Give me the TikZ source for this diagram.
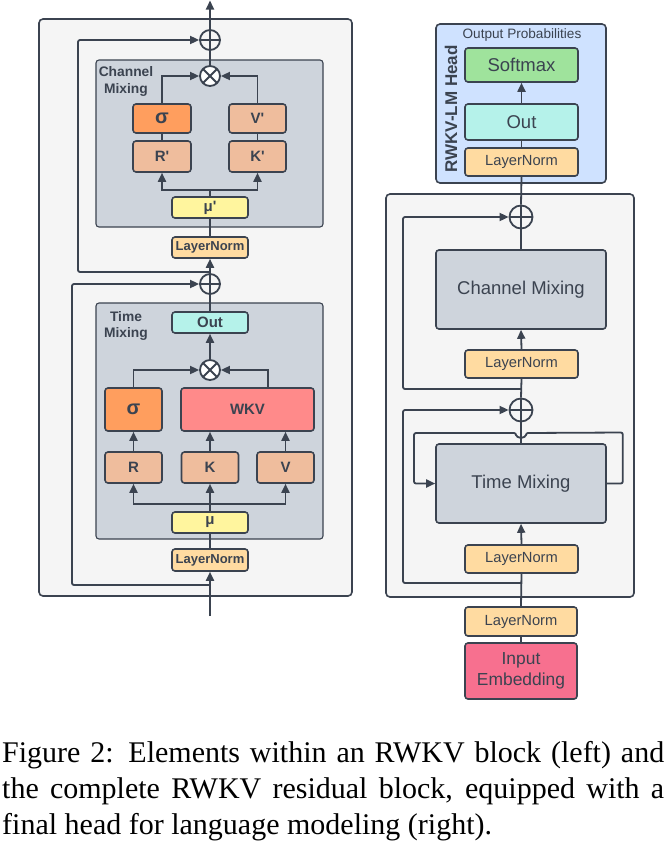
\documentclass[tikz,border=0pt]{standalone}
\usepackage{fontspec}
\setmainfont{Liberation Serif}
\setsansfont{Liberation Sans}
\newfontfamily\lsans{Liberation Sans}
\usetikzlibrary{arrows.meta,calc}
\definecolor{ln}{HTML}{3B4350}
\definecolor{tx}{HTML}{3B4350}
\definecolor{bgc}{HTML}{F5F5F5}
\definecolor{mixc}{HTML}{CED4DC}
\definecolor{peach}{HTML}{EFBD9D}
\definecolor{orng}{HTML}{FF9E5E}
\definecolor{wkvc}{HTML}{FF8A8A}
\definecolor{cyanc}{HTML}{B5F2EA}
\definecolor{yel}{HTML}{FFF59E}
\definecolor{lnc}{HTML}{FFDBA1}
\definecolor{grn}{HTML}{9FE39C}
\definecolor{headc}{HTML}{CFE2FF}
\definecolor{pinkc}{HTML}{F7708F}
\tikzset{
  outer/.style={draw=ln, fill=bgc, line width=1.6pt, rounded corners=4pt, inner sep=0pt},
  mix/.style={draw=ln, fill=mixc, line width=1.1pt, rounded corners=3pt, inner sep=0pt},
  box/.style={draw=ln, line width=1.6pt, rounded corners=3pt, inner sep=0pt, text=tx},
  fL/.style={font=\lsans\bfseries\fontsize{15}{17}\selectfont},
  fLN/.style={font=\lsans\bfseries\fontsize{13}{14}\selectfont},
  fS/.style={font=\lsans\bfseries\fontsize{20}{22}\selectfont},
  fR/.style={font=\lsans\fontsize{18.5}{21}\selectfont},
  fRN/.style={font=\lsans\fontsize{14.7}{17}\selectfont},
  lbl/.style={align=center, text=tx, inner sep=0pt, font=\lsans\bfseries\fontsize{13.8}{16.5}\selectfont},
  conn/.style={draw=ln, line width=1.8pt},
  arr/.style={conn, -{Triangle[length=9pt,width=8pt]}},
  plusc/.style={circle, draw=ln, line width=1.8pt, fill=bgc, inner sep=0pt, minimum size=#1,
    path picture={\draw[ln, line width=1.8pt] (path picture bounding box.north) -- (path picture bounding box.south)
      (path picture bounding box.west) -- (path picture bounding box.east);}},
  timesc/.style={circle, draw=ln, line width=1.8pt, fill=white, inner sep=0pt, minimum size=#1,
    path picture={\draw[ln, line width=1.8pt] (path picture bounding box.north west) -- (path picture bounding box.south east)
      (path picture bounding box.south west) -- (path picture bounding box.north east);}},
  captxt/.style={anchor=base west, inner sep=0pt, font=\fontsize{30}{37}\selectfont}
}
\begin{document}
\begin{tikzpicture}[x=1pt,y=-1pt]
\useasboundingbox (0,0) rectangle (668,846);
% ================= LEFT =================
\node[outer, minimum width=313pt, minimum height=577pt] (outerL) at (195.5,307.5) {};
\node[mix, minimum width=227pt, minimum height=167pt] (cmL) at (209.5,143.5) {};
\node[mix, minimum width=227pt, minimum height=236pt] (tmL) at (209.5,421) {};
\node[lbl] (cmLab) at (126,81.5) {Channel\\Mixing};
\node[lbl] (tmLab) at (126,326) {Time\\Mixing};

\node[plusc=20pt] (plusT) at (210,40) {};
\node[timesc=20pt] (otC) at (210,76) {};
\node[box, fill=orng, fS, minimum width=58pt, minimum height=29pt] (sigC) at (162,118.5) {σ};
\node[box, fill=peach, fL, minimum width=58pt, minimum height=31pt] (rC) at (162,156.5) {R'};
\node[box, fill=peach, fL, minimum width=57pt, minimum height=29pt] (vC) at (257.5,118.5) {V'};
\node[box, fill=peach, fL, minimum width=57pt, minimum height=31pt] (kC) at (257.5,156.5) {K'};
\node[box, fill=yel, fL, minimum width=76pt, minimum height=21pt] (muC) at (210,207.5) {μ'};
\node[box, fill=lnc, fLN, minimum width=76pt, minimum height=21pt] (lnC) at (210,247.5) {LayerNorm};
\node[plusc=20pt] (plusM) at (210,284) {};

\node[box, fill=cyanc, fL, minimum width=76pt, minimum height=21pt] (outT) at (210,322.5) {Out};
\node[timesc=20pt] (otT) at (210,370) {};
\node[box, fill=orng, fS, minimum width=57pt, minimum height=43pt] (sigT) at (133.5,409.5) {σ};
\node[box, fill=wkvc, fL, minimum width=133pt, minimum height=43pt] (wkv) at (247.5,409.5) {WKV};
\node[box, fill=peach, fL, minimum width=57pt, minimum height=31pt] (rT) at (133.5,467.5) {R};
\node[box, fill=peach, fL, minimum width=57pt, minimum height=31pt] (kT) at (210,467.5) {K};
\node[box, fill=peach, fL, minimum width=57pt, minimum height=31pt] (vT) at (285.5,467.5) {V};
\node[box, fill=yel, fL, minimum width=76pt, minimum height=21pt] (muT) at (210,522.5) {μ};
\node[box, fill=lnc, fLN, minimum width=76pt, minimum height=22pt] (lnT) at (210,560) {LayerNorm};

\coordinate (inL) at (210,616);
\coordinate (outL) at (210,0.5);
\coordinate (brC) at (210,190);
\coordinate (brT) at (210,504);
\coordinate (rs1) at (210,585);
\coordinate (rs2) at (210,272);

% connectors left
\draw[arr] (inL) -- (lnT.south);
\draw[conn] (lnT.north) -- (muT.south);
\draw[conn] (muT.north) -- (brT);
\draw[arr] (brT) -| (rT.south);
\draw[arr] (brT) -| (vT.south);
\draw[arr] (brT) -- (kT.south);
\draw[arr] (rT.north) -- (sigT.south);
\draw[arr] (kT.north) -- (kT.north |- wkv.south);
\draw[arr] (vT.north) -- (vT.north |- wkv.south);
\draw[arr] (sigT.north) |- (otT.west);
\draw[arr] ([xshift=20.5pt]wkv.north) |- (otT.east);
\draw[arr] (otT.north) -- (outT.south);
\draw[conn] (outT.north) -- (plusM.south);
\draw[arr] (plusM.north) -- (lnC.south);
\draw[conn] (lnC.north) -- (muC.south);
\draw[conn] (muC.north) -- (brC);
\draw[arr] (brC) -| (rC.south);
\draw[arr] (brC) -| (kC.south);
\draw[conn] (rC.north) -- (sigC.south);
\draw[conn] (kC.north) -- (vC.south);
\draw[arr] (sigC.north) |- (otC.west);
\draw[arr] (vC.north) |- (otC.east);
\draw[conn] (otC.north) -- (plusT.south);
\draw[arr] (plusT.north) -- (outL);
\draw[arr, rounded corners=2pt] (rs1) -- ++(-138,0) |- (plusM.west);
\draw[arr, rounded corners=2pt] (rs2) -- ++(-132,0) |- (plusT.west);

% ================= RIGHT =================
\node[box, fill=headc, minimum width=170pt, minimum height=159pt, rounded corners=4pt] (headB) at (521,103.5) {};
\node[text=tx, inner sep=0pt, font=\lsans\fontsize{13.6}{15}\selectfont] (opLab) at (522,35) {Output Probabilities};
\node[text=tx, inner sep=0pt, rotate=90, font=\lsans\bfseries\fontsize{17}{19}\selectfont] (headLab) at (451,109) {RWKV-LM Head};
\node[box, fill=grn, fR, minimum width=113pt, minimum height=34pt] (soft) at (521.5,65) {Softmax};
\node[box, fill=cyanc, fR, minimum width=113pt, minimum height=36pt] (outR) at (521.5,122) {Out};
\node[box, fill=lnc, fRN, minimum width=113pt, minimum height=28pt] (lnH) at (521.5,162) {LayerNorm};

\node[outer, minimum width=248pt, minimum height=403pt] (outerR) at (510,395.5) {};
\node[plusc=23pt] (plusR1) at (521,217) {};
\node[box, fill=mixc, fR, minimum width=170pt, minimum height=79pt] (cmR) at (521,289.5) {Channel Mixing};
\node[box, fill=lnc, fRN, minimum width=113pt, minimum height=28pt] (lnR1) at (521.5,364) {LayerNorm};
\node[plusc=23pt] (plusR2) at (521,410) {};
\node[box, fill=mixc, fR, minimum width=170pt, minimum height=79pt] (tmR) at (521,483.5) {Time Mixing};
\node[box, fill=lnc, fRN, minimum width=113pt, minimum height=28pt] (lnR2) at (521.5,559) {LayerNorm};

\node[box, fill=lnc, fRN, minimum width=112pt, minimum height=29pt] (lnE) at (521,621.5) {LayerNorm};
\node[box, fill=pinkc, align=center, font=\lsans\fontsize{17.4}{21}\selectfont, minimum width=112pt, minimum height=56pt] (emb) at (521,671) {Input\\Embedding};

\coordinate (rr1) at (521,389);
\coordinate (rr2) at (521,583);

\draw[conn] (emb.north) -- (lnE.south);
\draw[conn] (lnE.north) -- (lnR2.south);
\draw[arr] (lnR2.north) -- (tmR.south);
\draw[conn] (tmR.north) -- (plusR2.south);
\draw[conn] (plusR2.north) -- (lnR1.south);
\draw[arr] (lnR1.north) -- (cmR.south);
\draw[conn] (cmR.north) -- (plusR1.south);
\draw[conn] (plusR1.north) -- (lnH.south);
\draw[conn] (lnH.north) -- (outR.south);
\draw[arr] (outR.north) -- (soft.south);
\draw[arr, rounded corners=2pt] (rr1) -- ++(-118,0) |- (plusR1.west);
\draw[arr, rounded corners=2pt] (rr2) -- ++(-118,0) |- (plusR2.west);
\draw[arr, rounded corners=2pt] (tmR.east) -- ++(16,0) -- ++(0,-51) -- (526,433)
   arc[start angle=0, end angle=-180, radius=5pt] -- (414,433) -- (414,483.5) -- (tmR.west);

% ================= CAPTION =================
\node[captxt] (cap1) at (2,762) {\makebox[662pt][s]{Figure 2: Elements within an RWKV block (left) and}};
\node[captxt] (cap2) at (2,798.5) {\makebox[662pt][s]{the complete RWKV residual block, equipped with a}};
\node[captxt] (cap3) at (2,834.5) {final head for language modeling (right).};
\end{tikzpicture}
\end{document}
